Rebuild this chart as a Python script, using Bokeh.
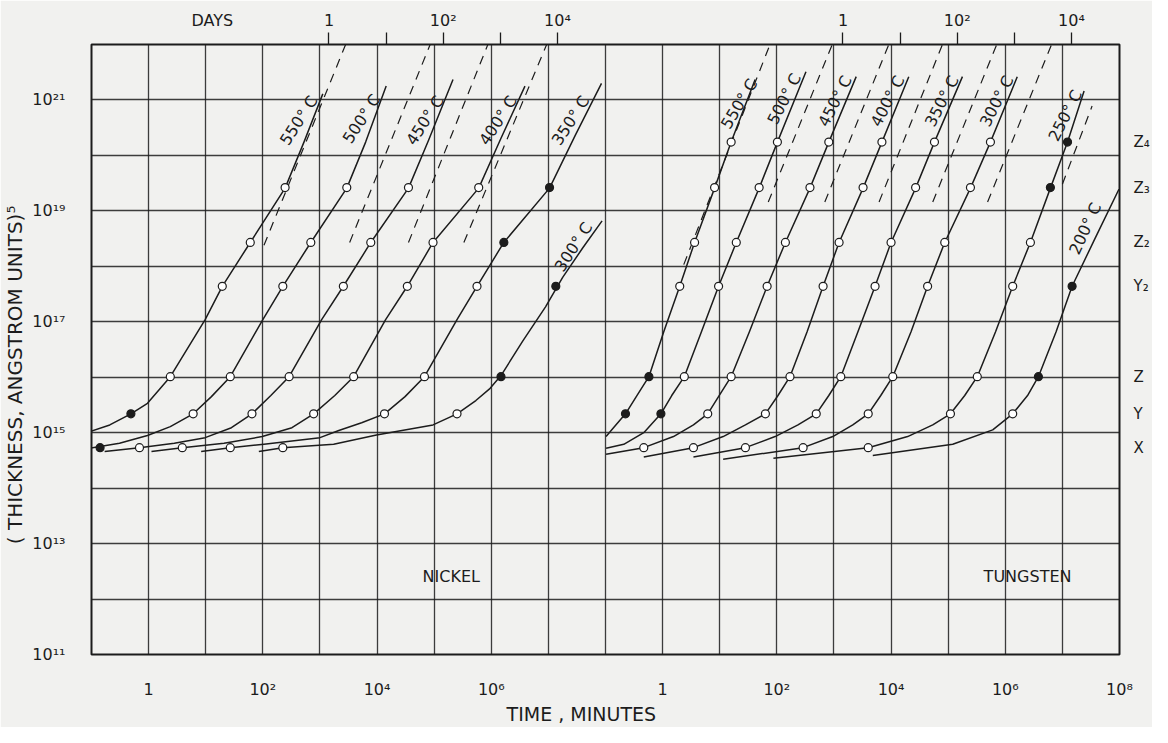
import numpy as np
from bokeh.plotting import figure
from bokeh.models import (Range1d, LogAxis, LogScale, FixedTicker,
                          CustomJSTickFormatter)
from bokeh.core.properties import value
from bokeh.embed import file_html
from bokeh.resources import INLINE

FONT = "DejaVu Sans"
INK = "#1c1c1c"
PAPER = "#f1f1ef"
NB = "\u00a0"

# ---------------- data ----------------
# reference thickness levels (log10 of thickness^5)
level_names = ["X", "Y", "Z", "Y₂", "Z₂", "Z₃", "Z₄"]
level_log = [14.73, 15.34, 16.01, 17.64, 18.43, 19.42, 20.24]

# axis labels
time_labels = ["1", "10²", "10⁴", "10⁶"]
time_labels_w = ["1", "10²", "10⁴", "10⁶", "10⁸"]
day_labels = ["1", "", "10²", "", "10⁴"]
y_labels = ["10¹¹", "10¹³", "10¹⁵", "10¹⁷", "10¹⁹", "10²¹"]

# ---- Nickel: curves, log10(minutes) vs log10(thickness^5)
ni_temps = ["550° C", "500° C", "450° C", "400° C", "350° C", "300° C"]
ni_curve_t = [
    [-1.03, -0.68, -0.31, -0.02, 0.38, 0.99, 1.29, 1.78, 2.39, 2.72, 3.05],
    [-1.03, -0.51, -0.02, 0.38, 0.78, 1.10, 1.43, 2.00, 2.35, 2.84, 3.47, 3.80, 4.16],
    [-0.77, -0.16, 0.45, 0.99, 1.45, 1.81, 2.14, 2.46, 3.03, 3.41, 3.89, 4.55, 4.90, 5.33],
    [0.05, 0.59, 1.32, 1.99, 2.51, 2.89, 3.26, 3.59, 4.15, 4.53, 4.98, 5.78, 6.17, 6.59],
    [0.92, 1.43, 2.02, 3.00, 3.33, 3.73, 4.13, 4.49, 4.83, 5.40, 5.75, 6.22, 7.02, 7.47, 7.93],
    [1.93, 2.35, 3.24, 3.99, 4.98, 5.40, 5.73, 5.98, 6.17, 6.55, 6.95, 7.25, 7.60, 7.94],
]
ni_curve_y = [
    [15.02, 15.14, 15.34, 15.53, 16.01, 17.04, 17.64, 18.43, 19.41, 20.24, 21.11],
    [14.72, 14.81, 14.95, 15.11, 15.34, 15.65, 16.01, 17.04, 17.64, 18.43, 19.41, 20.24, 21.25],
    [14.66, 14.73, 14.81, 14.91, 15.09, 15.34, 15.67, 16.01, 17.04, 17.64, 18.43, 19.41, 20.27, 21.37],
    [14.66, 14.73, 14.81, 14.93, 15.09, 15.34, 15.67, 16.01, 17.04, 17.64, 18.43, 19.41, 20.31, 21.25],
    [14.66, 14.73, 14.79, 14.91, 15.04, 15.18, 15.34, 15.65, 16.01, 17.04, 17.64, 18.43, 19.41, 20.36, 21.30],
    [14.66, 14.73, 14.79, 14.96, 15.14, 15.34, 15.58, 15.80, 16.03, 16.65, 17.27, 17.80, 18.33, 18.82],
]
# measured points: log10(minutes), level index, filled?
ni_pt_t = [
    [-0.31, 0.38, 1.29, 1.78, 2.39],
    [-0.85, 0.78, 1.43, 2.35, 2.84, 3.47],
    [-0.16, 1.81, 2.46, 3.41, 3.89, 4.55],
    [0.59, 2.89, 3.59, 4.53, 4.98, 5.78],
    [1.43, 4.13, 4.83, 5.75, 6.22, 7.02],
    [2.35, 5.40, 6.17, 7.13],
]
ni_pt_lvl = [
    [1, 2, 3, 4, 5],
    [0, 1, 2, 3, 4, 5],
    [0, 1, 2, 3, 4, 5],
    [0, 1, 2, 3, 4, 5],
    [0, 1, 2, 3, 4, 5],
    [0, 1, 2, 3],
]
ni_pt_fill = [
    [1, 0, 0, 0, 0],
    [1, 0, 0, 0, 0, 0],
    [0, 0, 0, 0, 0, 0],
    [0, 0, 0, 0, 0, 0],
    [0, 0, 0, 0, 1, 1],
    [0, 0, 1, 1],
]
# dashed extrapolations (start, end)
ni_dash_t = [[2.02, 3.45], [3.52, 4.93], [4.55, 5.94], [5.52, 6.97]]
ni_dash_y = [[18.38, 22.0], [18.43, 22.0], [18.43, 22.0], [18.43, 22.0]]

# ---- Tungsten
w_temps = ["550° C", "500° C", "450° C", "400° C", "350° C", "300° C", "250° C", "200° C"]
w_curve_t = [
    [-0.99, -0.86, -0.65, -0.45, -0.24, 0.02, 0.30, 0.56, 0.91, 1.20, 1.62],
    [-0.99, -0.68, -0.33, -0.03, 0.16, 0.38, 0.68, 0.98, 1.29, 1.69, 2.01, 2.51],
    [-0.99, -0.33, 0.19, 0.54, 0.79, 0.99, 1.20, 1.52, 1.83, 2.15, 2.58, 2.91, 3.39],
    [-0.33, 0.54, 1.06, 1.45, 1.80, 2.02, 2.23, 2.53, 2.81, 3.09, 3.51, 3.84, 4.31],
    [0.54, 1.45, 1.97, 2.37, 2.69, 2.91, 3.12, 3.42, 3.72, 4.00, 4.43, 4.76, 5.25],
    [1.06, 2.46, 2.98, 3.33, 3.60, 3.82, 4.03, 4.35, 4.64, 4.94, 5.39, 5.74, 6.21],
    [1.94, 3.60, 4.29, 4.73, 5.04, 5.29, 5.51, 5.83, 6.13, 6.44, 6.79, 7.09, 7.38],
    [3.68, 5.08, 5.78, 6.13, 6.39, 6.58, 6.89, 7.17, 7.57, 7.99],
]
w_curve_y = [
    [14.93, 15.09, 15.34, 15.67, 16.01, 16.82, 17.64, 18.43, 19.41, 20.24, 21.37],
    [14.72, 14.79, 15.00, 15.34, 15.67, 16.01, 16.82, 17.64, 18.43, 19.41, 20.24, 21.51],
    [14.61, 14.73, 14.93, 15.14, 15.34, 15.67, 16.01, 16.82, 17.64, 18.43, 19.41, 20.24, 21.42],
    [14.56, 14.73, 14.93, 15.14, 15.34, 15.67, 16.01, 16.82, 17.64, 18.43, 19.41, 20.24, 21.42],
    [14.56, 14.73, 14.93, 15.14, 15.34, 15.67, 16.01, 16.82, 17.64, 18.43, 19.41, 20.24, 21.42],
    [14.52, 14.73, 14.93, 15.14, 15.34, 15.67, 16.01, 16.82, 17.64, 18.43, 19.41, 20.24, 21.42],
    [14.54, 14.73, 14.93, 15.14, 15.34, 15.67, 16.01, 16.82, 17.64, 18.43, 19.41, 20.24, 21.16],
    [14.59, 14.79, 15.05, 15.34, 15.67, 16.01, 16.82, 17.64, 18.50, 19.39],
]
w_pt_t = [
    [-0.65, -0.24, 0.30, 0.56, 0.91, 1.20],
    [-0.03, 0.38, 0.98, 1.29, 1.69, 2.01],
    [-0.33, 0.79, 1.20, 1.83, 2.15, 2.58, 2.91],
    [0.54, 1.80, 2.23, 2.81, 3.09, 3.51, 3.84],
    [1.45, 2.69, 3.12, 3.72, 4.00, 4.43, 4.76],
    [2.46, 3.60, 4.03, 4.64, 4.94, 5.39, 5.74],
    [3.60, 5.04, 5.51, 6.13, 6.44, 6.79, 7.09],
    [6.13, 6.58, 7.17],
]
w_pt_lvl = [
    [1, 2, 3, 4, 5, 6],
    [1, 2, 3, 4, 5, 6],
    [0, 1, 2, 3, 4, 5, 6],
    [0, 1, 2, 3, 4, 5, 6],
    [0, 1, 2, 3, 4, 5, 6],
    [0, 1, 2, 3, 4, 5, 6],
    [0, 1, 2, 3, 4, 5, 6],
    [1, 2, 3],
]
w_pt_fill = [
    [1, 1, 0, 0, 0, 0],
    [1, 0, 0, 0, 0, 0],
    [0, 0, 0, 0, 0, 0, 0],
    [0, 0, 0, 0, 0, 0, 0],
    [0, 0, 0, 0, 0, 0, 0],
    [0, 0, 0, 0, 0, 0, 0],
    [0, 0, 0, 0, 0, 1, 1],
    [0, 1, 1],
]
w_dash_t = [[0.37, 1.88], [1.85, 2.97], [2.84, 3.96], [3.79, 4.90],
            [4.73, 5.85], [5.69, 6.81], [7.00, 7.52]]
w_dash_y = [[18.03, 22.0], [19.16, 22.0], [19.16, 22.0], [19.16, 22.0],
            [19.16, 22.0], [19.16, 22.0], [19.48, 20.89]]

# ---------------- layout (positions of annotations) ----------------
ni_label_pos = [(2.63, 20.63, 57), (3.73, 20.66, 57), (4.84, 20.63, 57),
                (6.12, 20.63, 57), (7.39, 20.63, 57), (7.44, 18.35, 57)]
w_label_pos = [(1.34, 20.93, 59), (2.13, 21.02, 63), (3.02, 20.98, 63), (3.94, 20.98, 63),
               (4.89, 20.98, 63), (5.85, 20.98, 63), (7.05, 20.72, 63), (7.40, 18.68, 65)]
DAYS_POS = 10.0 ** (1.115 - np.log10(1440))   # where the word DAYS sits on the day scale

W_SHIFT = 9  # tungsten panel begins 9 decades to the right of the nickel panel

p = figure(width=1152, height=727, x_axis_type="log", y_axis_type="log",
           x_range=Range1d(0.1, 1e17), y_range=Range1d(1e11, 1e22),
           output_backend="svg", toolbar_location=None,
           min_border_left=87, min_border_right=32, min_border_top=44, min_border_bottom=61,
           background_fill_color=PAPER, border_fill_color=PAPER)
p.extra_x_ranges = {"w": Range1d(1e-10, 1e8),
                    "days": Range1d(0.1 / 1440, 1e17 / 1440)}
p.extra_x_scales = {"w": LogScale(), "days": LogScale()}
p.outline_line_color = INK
p.outline_line_width = 2

# grids
p.xgrid.ticker = FixedTicker(ticks=[10.0 ** k for k in range(-1, 18)])
p.ygrid.ticker = FixedTicker(ticks=[10.0 ** k for k in range(11, 23)])
for g in (p.xgrid[0], p.ygrid[0]):
    g.grid_line_color = INK
    g.grid_line_width = 1.3
    g.grid_line_alpha = 0.85

def lookup(tick_values, tick_names):
    return CustomJSTickFormatter(args=dict(tv=tick_values, tn=tick_names), code="""
        const lt = Math.log10(tick);
        for (let i = 0; i < tv.length; i++) {
            if (Math.abs(Math.log10(tv[i]) - lt) < 1e-6) return tn[i];
        }
        return "";
    """)

def style_axis(ax, size="15px"):
    ax.axis_line_color = None
    ax.major_tick_line_color = None
    ax.minor_tick_line_color = None
    ax.major_label_text_font = FONT
    ax.major_label_text_font_size = size
    ax.major_label_text_color = INK

# bottom axis
bt = [10.0 ** k for k in (0, 2, 4, 6)] + [10.0 ** (k + W_SHIFT) for k in (0, 2, 4, 6, 8)]
bx = p.xaxis[0]
bx.ticker = FixedTicker(ticks=bt)
bx.formatter = lookup(bt, time_labels + time_labels_w)
style_axis(bx, "16px")
bx.major_label_standoff = 19
bx.axis_label = "TIME ,  MINUTES" + NB * 7
bx.axis_label_standoff = 1
bx.axis_label_text_font = FONT
bx.axis_label_text_font_style = "normal"
bx.axis_label_text_font_size = "19px"
bx.axis_label_text_color = INK

# left axis
ly = p.yaxis[0]
lt = [10.0 ** k for k in (11, 13, 15, 17, 19, 21)]
ly.ticker = FixedTicker(ticks=lt)
ly.formatter = lookup(lt, y_labels)
style_axis(ly, "16px")
ly.major_label_standoff = 20
ly.axis_label = "( THICKNESS,  ANGSTROM UNITS)⁵" + NB * 7
ly.axis_label_standoff = 2
ly.axis_label_text_font = FONT
ly.axis_label_text_font_style = "normal"
ly.axis_label_text_font_size = "20px"
ly.axis_label_text_color = INK

# top: tick marks of the day scale, then its labels (with the word DAYS)
dt = [10.0 ** k for k in range(0, 5)] + [10.0 ** (k + W_SHIFT) for k in range(0, 5)]
top_ticks = LogAxis(x_range_name="days", ticker=FixedTicker(ticks=dt),
                    formatter=CustomJSTickFormatter(code="return '';"))
style_axis(top_ticks, "1px")
top_ticks.major_tick_line_color = INK
top_ticks.major_tick_line_width = 1.3
top_ticks.major_tick_out = 12
top_ticks.major_tick_in = 0
top_ticks.major_label_standoff = 0
p.add_layout(top_ticks, "above")

dl = [DAYS_POS] + dt
top_labels = LogAxis(x_range_name="days", ticker=FixedTicker(ticks=dl),
                     formatter=lookup(dl, ["DAYS"] + day_labels + day_labels))
style_axis(top_labels, "16px")
top_labels.major_tick_out = 0
top_labels.major_tick_in = 0
top_labels.major_label_standoff = 3
p.add_layout(top_labels, "above")

# right axis: reference levels
rt = [10.0 ** v for v in level_log]
right = LogAxis(ticker=FixedTicker(ticks=rt), formatter=lookup(rt, level_names))
style_axis(right, "15px")
right.major_label_standoff = 8
p.add_layout(right, "right")

# ---------------- draw ----------------
def draw_panel(curve_t, curve_y, pt_t, pt_lvl, pt_fill, dash_t, dash_y, temps, lab, rng):
    kw = {} if rng is None else {"x_range_name": rng}
    for ct, cy in zip(curve_t, curve_y):
        p.line([10.0 ** v for v in ct], [10.0 ** v for v in cy],
               line_color=INK, line_width=1.5, line_join="round", **kw)
    for dtt, dy in zip(dash_t, dash_y):
        p.line([10.0 ** v for v in dtt], [10.0 ** v for v in dy],
               line_color=INK, line_width=1.2, line_dash="9 7", **kw)
    for tt, lv, ff in zip(pt_t, pt_lvl, pt_fill):
        xs = [10.0 ** v for v in tt]
        ys = [10.0 ** level_log[i] for i in lv]
        fills = [INK if f else "white" for f in ff]
        p.scatter(xs, ys, marker="circle", size=8, fill_color=fills,
                  line_color=INK, line_width=1.2, **kw)
    for name, (lx, lyv, ang) in zip(temps, lab):
        p.text([10.0 ** lx], [10.0 ** lyv], text=[name], angle=np.deg2rad(ang),
               text_font=value(FONT), text_font_size="16px", text_color=INK,
               text_align="center", text_baseline="middle", **kw)

draw_panel(ni_curve_t, ni_curve_y, ni_pt_t, ni_pt_lvl, ni_pt_fill,
           ni_dash_t, ni_dash_y, ni_temps, ni_label_pos, None)
draw_panel(w_curve_t, w_curve_y, w_pt_t, w_pt_lvl, w_pt_fill,
           w_dash_t, w_dash_y, w_temps, w_label_pos, "w")

p.text([10.0 ** 5.30], [10.0 ** 12.40], text=["NICKEL"], text_font=value(FONT),
       text_font_size="16px", text_color=INK, text_align="center", text_baseline="middle")
p.text([10.0 ** 6.39], [10.0 ** 12.40], text=["TUNGSTEN"], text_font=value(FONT),
       text_font_size="16px", text_color=INK, text_align="center", text_baseline="middle",
       x_range_name="w")

open("out.html", "w").write(file_html(p, INLINE))
